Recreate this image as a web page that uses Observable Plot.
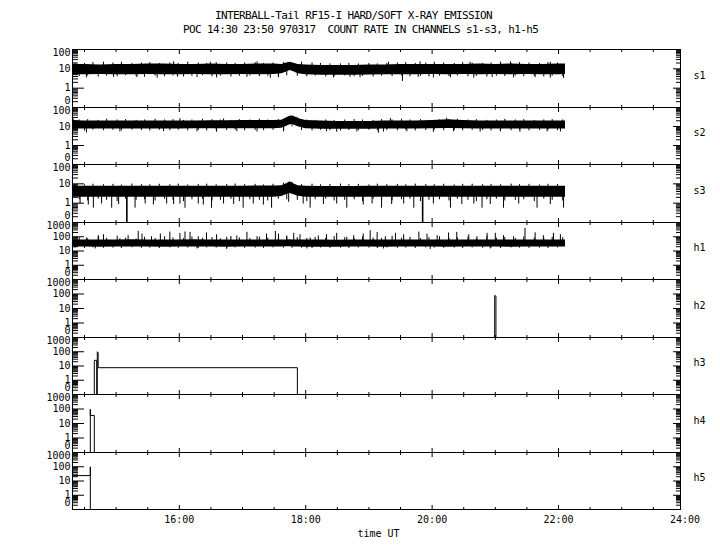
<!DOCTYPE html>
<html><head><meta charset="utf-8">
<script src="https://cdn.jsdelivr.net/npm/d3@7"></script>
<script src="https://cdn.jsdelivr.net/npm/@observablehq/plot@0.6"></script>
<style>
body{margin:0;background:#fff;}
#chart{position:relative;width:720px;height:550px;background:#fff;font-family:"DejaVu Sans Mono",monospace;color:#000;}
.ttl{position:absolute;font-size:11px;letter-spacing:-0.6px;line-height:10px;white-space:pre;}
</style></head><body>
<div id="chart">
<div class="ttl" style="left:215px;top:11px;">INTERBALL-Tail RF15-I HARD/SOFT X-RAY EMISSION</div>
<div class="ttl" style="left:183px;top:25px;">POC 14:30 23:50 970317  COUNT RATE IN CHANNELS s1-s3, h1-h5</div>
</div>
<script>
// ---------- data (time in decimal hours UT, values in counts) ----------
const panelNames = ["s1","s2","s3","h1","h2","h3","h4","h5"];
const xTickHours = [16, 18, 20, 22, 24];
const xTickLabels = ["16:00","18:00","20:00","22:00","24:00"];
const xMinorHours = [14.5,15,15.5,16.5,17,17.5,18.5,19,19.5,20.5,21,21.5,22.5,23,23.5];
const sDecades = [0.1, 1, 10, 100];
const sDecadeLabels = ["0", "1", "10", "100"];
const hDecades = [0.1, 1, 10, 100, 1000];
const hDecadeLabels = ["0", "1", "10", "100", "1000"];
const sMinors = [0.2,0.3,0.4,0.5,0.6,0.7,0.8,0.9,2,3,4,5,6,7,8,9,20,30,40,50,60,70,80,90];
const hMinors = [0.2,0.3,0.4,0.5,0.6,0.7,0.8,0.9,2,3,4,5,6,7,8,9,20,30,40,50,60,70,80,90,200,300,400,500,600,700,800,900];

// solid core of each noisy trace
const bandHours = [14.31,14.5,14.75,15.0,15.25, 15.5,15.75,16.0,16.25,16.5, 16.75,17.0,17.25,17.5,17.62,
  17.7,17.75,17.8,17.88,18.0, 18.25,18.5,18.75,19.0,19.25, 19.5,19.75,20.0,20.25,20.5, 20.75,21.0,21.25,21.5,21.75, 22.0,22.11];
const s1Hi = [17,17,16,17,17, 18,18,17,17,18, 17,17,18,18,17, 20,22,20,17,16, 15,15,15,16,16, 17,17,17,17,17, 18,17,18,17,17, 18,18];
const s1Lo = [5.0,4.9,5.1,5.0,4.9, 5.1,5.0,5.0,5.1,5.0, 5.0,5.1,5.0,5.1,5.6, 6.8,8.2,7.2,5.6,4.9, 4.7,4.6,4.7,4.8,4.9, 5.0,5.0,5.1,5.0,5.1, 5.0,5.1,5.0,5.1,5.0, 5.0,5.1];
const s2Hi = [20,19.5,19.5,19.5,19.5, 19.5,19.5,19.5,19.5,20, 20,20.5,20.5,20.5,21.5, 29,35,36,26,20.5, 19.5,18.5,18.5,18.5,19.5, 19.5,19.5,20.5,22.5,20.5, 19.5,19.5,19.5,19.5,19.5, 19.5,19.5];
const s2Lo = [7.4,7.4,7.4,7.4,7.4, 7.4,7.4,7.4,7.5,7.6, 7.6,7.6,7.7,7.7,8.2, 10.2,12.2,12.2,9.7,7.6, 7.2,7.1,7.1,7.2,7.4, 7.4,7.4,7.6,7.8,7.5, 7.4,7.4,7.4,7.4,7.4, 7.4,7.4];
const s3Hi = [7.5,7.5,7.5,7.5,7.5, 7.5,7.5,7.5,7.5,7.5, 7.5,7.5,7.8,7.8,8, 10,13,10.5,8,7.5, 7.3,7.3,7.3,7.4,7.5, 7.5,7.5,7.5,7.6,7.5, 7.5,7.5,7.5,7.5,7.5, 7.5,7.5];
const s3Lo = [2,2,2,2,2, 2,2,2,2,2, 2,2,2,2,2.2, 2.8,3.2,2.8,2.3,2, 2,2,2,2,2, 2,2,2,2,2, 2,2,2,2,2, 2,2];
const h1Hi = [60,58,60,58,62, 60,58,60,62,58, 60,58,60,60,58, 60,62,60,58,60, 58,57,58,60,58, 60,58,60,60,58, 60,58,60,60,58, 60,60];
const h1Lo = [19,19,18,19,19, 19,18,19,19,19, 18,19,19,19,19, 20,20,19,19,18, 18,18,19,19,18, 19,19,19,18,19, 19,19,18,19,19, 19,19];

// noise fuzz around the core: times in minutes after 14:00
const fuzzMinutesA = [21,30,38,48,57,65,75,84,92,101, 111,119,128,138,146,155,165,173,182,192,
  200,209,219,227,236,246,254,263,273,281, 290,300,308,317,327,335,344,354,362,371,
  381,389,398,408,416,425,435,443,452,462, 470,479];
const fuzzMinutesB = [25,33,43,51,61,69,79,87,97,106, 114,124,132,142,151,159,169,177,187,196,
  204,214,222,232,241,249,259,267,277,286, 294,304,312,322,331,339,349,357,367,376,
  384,394,402,412,421,429,439,447,457,466, 474,484];
const s1FuzzUp = [20,19,21,19,20,22,19,20,21,19, 20,19,22,20,19,21,20,19,20,21, 19,20,21,19,22,20,19,18,18,19,
  18,19,18,19,20,21,19,20,22,20, 19,21,20,19,20,22,19,21,20,19, 21,20];
const s1FuzzDown = [4.0,4.3,3.8,4.2,3.9,4.4,4.0,3.7,4.2,3.9, 4.3,3.8,4.1,4.4,3.9,4.2,3.8,4.1,4.3,3.9,
  4.2,4.0,4.4,4.1,3.9,4.2,3.8,4.0,4.3,3.9, 4.1,3.8,4.2,4.0,4.3,3.9,4.1,3.8,4.2,4.0,
  4.3,3.9,4.1,3.8,4.2,4.0,4.3,3.9,4.1,3.8, 4.2,4.0];
const s2FuzzUp = [22,23,21,24,22,23,21,22,24,22, 23,21,22,24,23,22,21,23,22,24, 22,23,24,30,22,21,22,21,22,23,
  22,21,23,22,24,22,23,21,22,23, 24,22,23,21,22,24,22,23,21,22, 23,22];
const s2FuzzDown = [6.2,5.8,6.4,6.0,6.3,5.9,6.5,6.1,5.8,6.3, 6.0,6.4,5.9,6.2,5.8,6.3,6.1,6.4,5.9,6.2,
  6.0,6.3,6.1,9.5,6.2,5.9,6.3,6.0,5.8,6.2, 6.1,6.4,5.9,6.2,6.0,6.3,5.8,6.1,6.4,6.0,
  6.2,5.9,6.3,6.1,5.8,6.2,6.0,6.4,5.9,6.1, 6.3,6.0];
const s3FuzzUp = [9.2,8.8,9.6,9.0,9.4,8.7,9.8,9.1,8.9,9.5, 9.0,9.7,8.8,9.3,9.6,8.9,9.2,9.8,9.0,9.4,
  8.8,9.5,11,12,9.1,9.6,8.9,9.3,9.7,9.0, 9.4,8.8,9.6,9.1,9.3,8.9,9.7,9.2,9.0,9.5,
  8.8,9.4,9.6,9.0,9.3,8.9,9.7,9.1,9.4,8.8, 9.5,9.2];
const s3FuzzDown = [1.5,1.3,1.6,1.4,1.2,1.6,1.4,1.5,1.3,1.6, 1.4,1.2,1.5,1.6,1.3,1.4,1.6,1.2,1.5,1.4,
  1.3,1.6,1.5,1.4,1.2,1.5,1.6,1.3,1.4,1.5, 1.2,1.6,1.4,1.3,1.5,1.6,1.2,1.4,1.5,1.3,
  1.6,1.4,1.2,1.5,1.6,1.3,1.4,1.5,1.2,1.6, 1.4,1.3];
const h1FuzzUp = [85,72,95,78,110,80,70,92,75,100, 82,74,96,79,88,71,105,83,76,94, 80,73,98,86,75,90,78,102,84,72,
  95,81,77,108,79,91,74,87,99,76, 83,93,71,104,80,89,75,97,82,78, 92,86];
const h1FuzzDown = [16,15,16.5,15.5,16,15,17,15.5,16,15, 16.5,15.5,16,15,16.5,16,15,16.5,15.5,16,
  15,16.5,16,15.5,16,15,16.5,15.5,16,15, 16.5,16,15,16.5,15.5,16,15,16.5,16,15.5,
  16,15,16.5,15.5,16,15,16.5,16,15.5,16, 15,16.5];

// individual spikes
const s1DownHours = [14.53,14.96,15.33,15.65,15.97,16.28,16.59,17.07,17.44,17.57,18.44,18.70,18.86,19.53,19.78,20.02,20.29,20.66,20.95,21.29,21.63,21.87,22.08];
const s1DownValues = [3.4,3.6,3.5,3.3,3.7,3.5,3.4,3.6,3.3,3.5,3.4,3.7,3.5,2.2,3.6,3.4,3.5,3.3,3.6,3.4,3.5,3.3,3.2];
const s1UpHours = [14.80,15.91,16.49,17.23,19.31,19.81,20.60,21.24,21.87];
const s1UpValues = [22,23,22,23,22,23,22,23,22];
const s2DownHours = [14.53,15.06,15.75,16.28,16.59,16.91,17.23,17.65,18.33,18.49,18.81,19.15,19.23,19.60,20.02,20.34,20.76,21.08,21.39,21.82,22.03];
const s2DownValues = [4.6,5.2,5.4,5.2,5.0,5.3,5.1,5.2,5.3,5.0,5.2,4.4,5.1,5.3,5.0,5.2,5.1,5.3,5.0,5.2,5.1];
const s2UpHours = [14.32,16.01,16.70,19.34,20.23];
const s2UpValues = [25,26,25,26,27];
const s3DownHours = [14.43,14.56,14.64,14.77,14.93, 15.04,15.30,15.46,15.59,15.80, 15.91,16.01,16.09,16.30,16.38,
  16.51,16.70,16.86,17.01,17.17, 17.33,17.46,17.73,17.96,18.07, 18.28,18.49,18.65,18.91,19.05,
  19.20,19.36,19.55,19.71,20.02, 20.29,20.47,20.66,20.79,20.92, 21.13,21.37,21.66,21.87,22.08];
const s3DownValues = [0.9,0.8,0.55,0.9,0.55, 0.85,0.55,0.9,0.8,0.9, 0.85,0.9,0.55,0.9,0.8,
  0.55,0.9,0.85,0.55,0.9, 0.8,0.55,1.1,0.9,0.55, 0.85,0.9,0.55,0.8,0.9,
  0.55,0.85,0.9,0.55,0.9, 0.55,0.85,0.9,0.55,0.85, 0.55,0.9,0.55,0.85,0.55];
const s3GapHours = [15.17, 19.85];
const s3GapValues = [0, 0];
const h1UpHours = [14.53,14.72,14.80,15.06,15.19,15.35,15.41,15.56,15.70,15.85,16.01,16.09,16.17,16.30,16.43,16.59,16.75,16.91,
  17.07,17.23,17.38,17.52,17.57,17.70,17.81,17.91,18.07,18.20,18.33,18.49,18.65,18.76,18.91,19.02,19.13,19.26,
  19.42,19.55,19.79,19.92,20.08,20.26,20.39,20.58,20.71,20.87,21.00,21.13,21.29,21.47,21.63,21.76,21.92,22.03];
const h1UpValues = [82,119,139,72,119,238,155,101,155,214,173,214,202,101,182,139,91,113,
  202,101,155,238,155,113,173,139,82,113,139,173,91,119,155,265,202,101,
  173,139,214,155,119,182,202,139,101,173,173,119,101,385,190,119,173,139];
const h1DownHours = [14.67,16.28,16.75,18.02,19.23,19.97,20.92];
const h1DownValues = [14,14,13,14,14,13,14];

// sparse hard channels (0 = no counts)
const h2Hours = [14.31,20.99,20.99,21.01,21.01,22.11];
const h2Values = [0,0,80,70,0,0];
const h3Hours = [14.31,14.655,14.655,14.693,14.693,14.702,14.702,14.716,14.716,17.868,17.868,22.11];
const h3Values = [0,0,25,25,0,0,100,85,7.6,7.6,0,0];
const h4Hours = [14.31,14.592,14.592,14.592,14.655,14.655,22.11];
const h4Values = [0,0,95,36,36,0,0];
const h5Hours = [14.31,14.592,14.592,14.592,22.11];
const h5Values = [24,24,98,0,0];

// ---------- helpers ----------
const zeroLevel = v => Math.max(v, 0.1);   // "0" sits at the bottom of each log axis
const band = (hi, lo) => bandHours.map((t, i) => ({t, hi: hi[i], lo: lo[i]}));
const pts = (hs, vs) => hs.map((t, i) => ({t, v: zeroLevel(vs[i])}));
const fuzz = (mins, vs) => mins.map((m, i) => ({t: 14 + m / 60, v: vs[i]}));

const panels = [
  {max: 100, band: band(s1Hi, s1Lo), base: 9,
   spikes: [fuzz(fuzzMinutesA, s1FuzzUp), fuzz(fuzzMinutesB, s1FuzzDown), pts(s1DownHours, s1DownValues), pts(s1UpHours, s1UpValues)]},
  {max: 100, band: band(s2Hi, s2Lo), base: 12,
   spikes: [fuzz(fuzzMinutesB, s2FuzzUp), fuzz(fuzzMinutesA, s2FuzzDown), pts(s2DownHours, s2DownValues), pts(s2UpHours, s2UpValues)]},
  {max: 100, band: band(s3Hi, s3Lo), base: 4,
   spikes: [fuzz(fuzzMinutesA, s3FuzzUp), fuzz(fuzzMinutesB, s3FuzzDown), pts(s3DownHours, s3DownValues)], gaps: pts(s3GapHours, s3GapValues)},
  {max: 1000, band: band(h1Hi, h1Lo), base: 33,
   spikes: [fuzz(fuzzMinutesB, h1FuzzUp), fuzz(fuzzMinutesA, h1FuzzDown), pts(h1UpHours, h1UpValues), pts(h1DownHours, h1DownValues)]},
  {max: 1000, line: pts(h2Hours, h2Values)},
  {max: 1000, line: pts(h3Hours, h3Values)},
  {max: 1000, line: pts(h4Hours, h4Values)},
  {max: 1000, line: pts(h5Hours, h5Values)}
];

// ---------- layout ----------
const chart = document.getElementById("chart");
const panelTops = [49, 107, 164, 222, 279, 337, 394, 452];
const panelBottom = 509;
const xDomain = [14.31, 23.93];
const FONT = "DejaVu Sans Mono";
const noText = {tickFormat: () => "", label: null};

panels.forEach((p, i) => {
  const last = i === panels.length - 1;
  const inner = (last ? panelBottom : panelTops[i + 1]) - panelTops[i];
  const mb = last ? 42 : 0;
  const isS = p.max === 100;
  const decades = isS ? sDecades : hDecades;
  const decLabels = isS ? sDecadeLabels : hDecadeLabels;
  const minors = isS ? sMinors : hMinors;
  const lab = decades.map((v, k) => ({v, s: decLabels[k], k}));
  const n = lab.length;
  const xMajor = xTickHours.filter(h => h <= xDomain[1]);
  const marks = [];
  if (p.band) {
    marks.push(Plot.areaY(p.band, {x: "t", y1: "lo", y2: "hi", fill: "black", curve: "linear"}));
    p.spikes.forEach(s => marks.push(Plot.ruleX(s, {x: "t", y1: "v", y2: p.base, stroke: "black", strokeWidth: 1})));
  }
  if (p.gaps) marks.push(Plot.ruleX(p.gaps, {x: "t", y1: "v", y2: p.base, stroke: "black", strokeWidth: 1.6}));
  if (p.line) marks.push(Plot.line(p.line, {x: "t", y: "v", stroke: "black", strokeWidth: 1}));
  marks.push(
    Plot.frame({stroke: "black"}),
    // inward-pointing ticks on all four sides of each panel
    Plot.axisY(decades, {anchor: "right", frameAnchor: "left", tickSize: 11, ...noText}),
    Plot.axisY(minors, {anchor: "right", frameAnchor: "left", tickSize: 5, ...noText}),
    Plot.axisY(decades, {anchor: "left", frameAnchor: "right", tickSize: 7, ...noText}),
    Plot.axisY(minors, {anchor: "left", frameAnchor: "right", tickSize: 4, ...noText}),
    Plot.axisX(xMajor, {anchor: "bottom", frameAnchor: "top", tickSize: 5, ...noText}),
    Plot.axisX(xMinorHours, {anchor: "bottom", frameAnchor: "top", tickSize: 3, ...noText}),
    Plot.axisX(xMajor, {anchor: "top", frameAnchor: "bottom", tickSize: 5, ...noText}),
    Plot.axisX(xMinorHours, {anchor: "top", frameAnchor: "bottom", tickSize: 3, ...noText}),
    Plot.text(lab.filter(d => d.k === 0), {y: "v", text: "s", frameAnchor: "left", textAnchor: "end", dx: -2, dy: -7}),
    Plot.text(lab.filter(d => d.k > 0 && d.k < n - 1), {y: "v", text: "s", frameAnchor: "left", textAnchor: "end", dx: -2}),
    Plot.text(lab.filter(d => d.k === n - 1), {y: "v", text: "s", frameAnchor: "left", textAnchor: "end", dx: -2, dy: 3.5}),
    Plot.text([panelNames[i]], {text: d => d, frameAnchor: "right", textAnchor: "start", dx: 13, dy: -3})
  );
  if (last) {
    const xl = xTickHours.map((h, k) => ({h, s: xTickLabels[k]}));
    marks.push(
      Plot.text(xl, {x: "h", text: "s", frameAnchor: "bottom", dy: 13}),
      Plot.text(["time UT"], {text: d => d, frameAnchor: "bottom", dy: 27, dx: 2})
    );
  }
  const svg = Plot.plot({
    width: 720, height: inner + mb,
    marginLeft: 72, marginRight: 40, marginTop: 0, marginBottom: mb,
    x: {domain: xDomain},
    y: {type: "log", domain: [0.1, p.max], clamp: true},
    style: {fontFamily: FONT, fontSize: "10px", overflow: "visible", background: "transparent", color: "black"},
    marks
  });
  svg.style.position = "absolute";
  svg.style.left = "0px";
  svg.style.top = panelTops[i] + "px";
  chart.appendChild(svg);
});
</script>
</body></html>
